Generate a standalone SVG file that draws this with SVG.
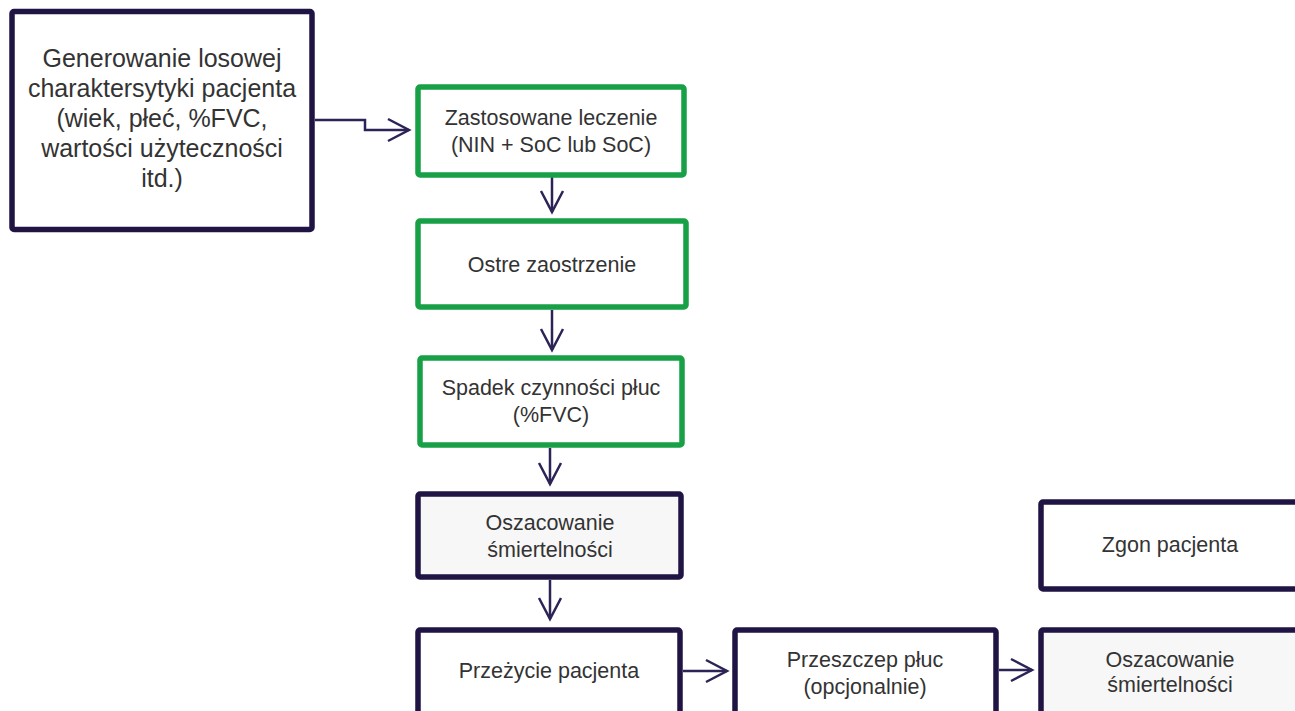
<svg xmlns="http://www.w3.org/2000/svg" width="1295" height="711" viewBox="0 0 1295 711">
<style>
.box{fill:#ffffff;stroke:#1f1443;stroke-width:5.5}
.gbox{fill:#ffffff;stroke:#17a046;stroke-width:5.5}
.est{fill:#f7f7f7;stroke:#1f1443;stroke-width:5.5}
.t{font-family:"Liberation Sans",Arial,sans-serif;font-size:21.5px;fill:#333333;text-anchor:middle}
.tb{font-family:"Liberation Sans",Arial,sans-serif;font-size:25px;fill:#333333;text-anchor:middle}
.c{fill:none;stroke:#2e2356;stroke-width:2.5}
</style>
<defs>
<marker id="ah" markerUnits="userSpaceOnUse" markerWidth="30" markerHeight="30" viewBox="-25 -15 30 30" refX="0" refY="0" orient="auto">
<path d="M-21,-11 L0,0 L-21,11" fill="none" stroke="#2e2356" stroke-width="2.5"/>
</marker>
</defs>
<rect width="1295" height="711" fill="#ffffff"/>
<g id="connectors">
<path class="c" d="M315,120 H365 V130 H409" marker-end="url(#ah)"/>
<path class="c" d="M552,177 V212" marker-end="url(#ah)"/>
<path class="c" d="M552,310 V350" marker-end="url(#ah)"/>
<path class="c" d="M550,448 V484" marker-end="url(#ah)"/>
<path class="c" d="M550,580 V619" marker-end="url(#ah)"/>
<path class="c" d="M683,671 H727" marker-end="url(#ah)"/>
<path class="c" d="M999,670 H1032" marker-end="url(#ah)"/>
</g>
<g id="node-generowanie">
<rect class="box" x="12" y="11.5" width="300" height="218" rx="2"/>
<text class="tb" x="162" y="67">Generowanie losowej</text>
<text class="tb" x="162" y="97">charaktersytyki pacjenta</text>
<text class="tb" x="162" y="127">(wiek, płeć, %FVC,</text>
<text class="tb" x="162" y="157">wartości użyteczności</text>
<text class="tb" x="162" y="187">itd.)</text>
</g>
<g id="node-leczenie">
<rect class="gbox" x="418" y="87" width="266" height="88" rx="2"/>
<text class="t" x="551" y="125">Zastosowane leczenie</text>
<text class="t" x="551" y="152">(NIN + SoC lub SoC)</text>
</g>
<g id="node-zaostrzenie">
<rect class="gbox" x="418" y="221" width="268" height="86" rx="2"/>
<text class="t" x="552" y="272">Ostre zaostrzenie</text>
</g>
<g id="node-spadek">
<rect class="gbox" x="420" y="358" width="262" height="87" rx="2"/>
<text class="t" x="551" y="395">Spadek czynności płuc</text>
<text class="t" x="551" y="422">(%FVC)</text>
</g>
<g id="node-oszacowanie1">
<rect class="est" x="418" y="494" width="263" height="83" rx="2"/>
<text class="t" x="550" y="530">Oszacowanie</text>
<text class="t" x="550" y="557">śmiertelności</text>
</g>
<g id="node-przezycie">
<rect class="box" x="418" y="630" width="262" height="100" rx="2"/>
<text class="t" x="549" y="678">Przeżycie pacjenta</text>
</g>
<g id="node-przeszczep">
<rect class="box" x="735" y="630" width="261" height="100" rx="2"/>
<text class="t" x="865" y="667">Przeszczep płuc</text>
<text class="t" x="865" y="694">(opcjonalnie)</text>
</g>
<g id="node-zgon">
<rect class="box" x="1041" y="502" width="300" height="87" rx="2"/>
<text class="t" x="1170" y="552">Zgon pacjenta</text>
</g>
<g id="node-oszacowanie2">
<rect class="est" x="1041" y="630" width="300" height="100" rx="2"/>
<text class="t" x="1170" y="667">Oszacowanie</text>
<text class="t" x="1170" y="692">śmiertelności</text>
</g>
</svg>
